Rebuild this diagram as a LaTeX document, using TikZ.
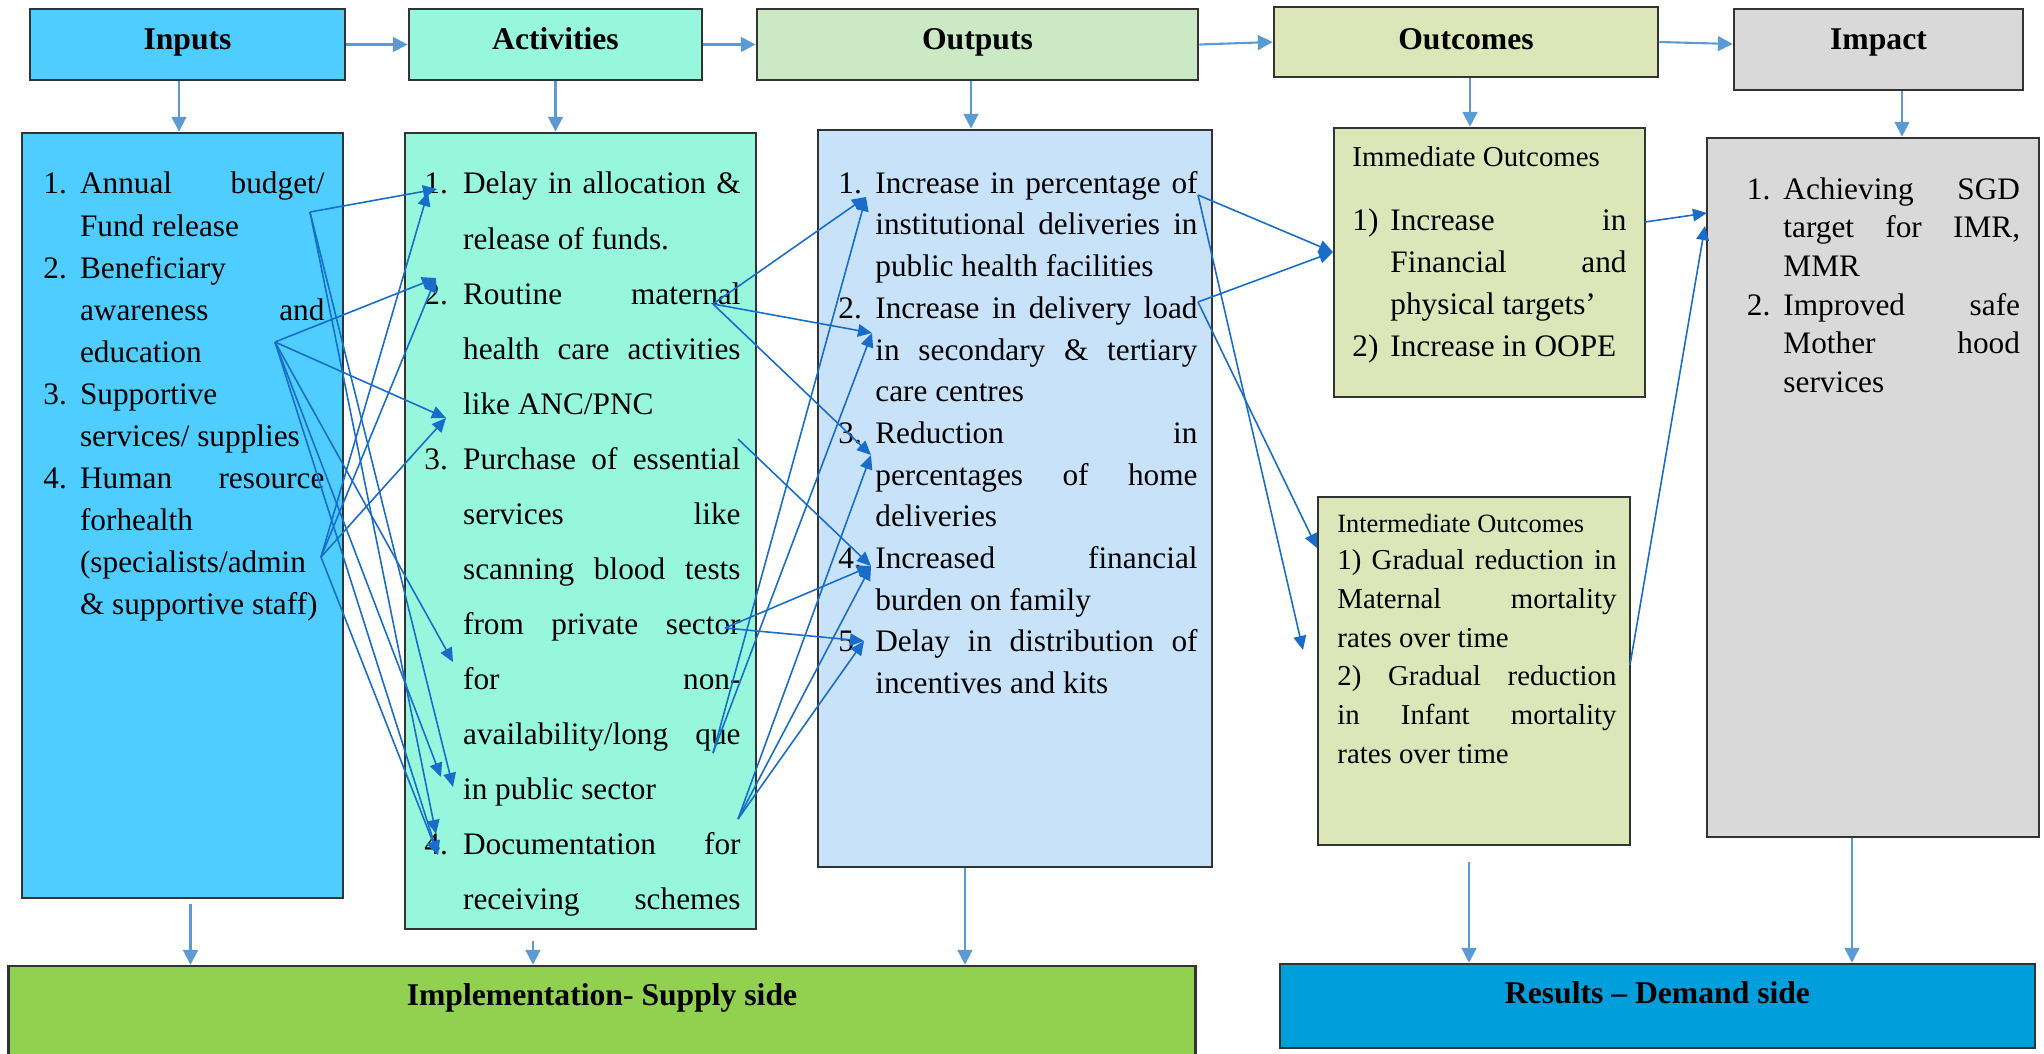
\documentclass[tikz,border=0pt]{standalone}
\usepackage{fontspec}
\setmainfont{Liberation Serif}
\usetikzlibrary{arrows.meta, positioning}

\definecolor{inputblue}{RGB}{80,205,255}
\definecolor{activitymint}{RGB}{150,247,220}
\definecolor{outputgreen}{RGB}{204,233,197}
\definecolor{outputblue}{RGB}{200,226,250}
\definecolor{outcomeolive}{RGB}{220,230,184}
\definecolor{impactgray}{RGB}{217,217,217}
\definecolor{supplygreen}{RGB}{146,208,80}
\definecolor{demandblue}{RGB}{0,158,219}
\definecolor{flowblue}{RGB}{91,155,213}
\definecolor{linkblue}{RGB}{24,108,202}

\hyphenpenalty=10000
\newlength{\lblw}
\newcommand{\litem}[2]{\noindent\hangindent=\lblw\hangafter=1\makebox[\lblw][l]{#1}#2\par}

\begin{document}
\begin{tikzpicture}[
  x=0.01cm, y=-0.01cm,
  every node/.style = {font=\fontsize{8.9}{12}\selectfont},
  box/.style = {
    draw=black!80,
    line width=0.7pt,
    inner sep=0pt
  },
  head/.style = {
    box,
    font=\fontsize{9}{11}\selectfont\bfseries,
    text height=0.217cm,
    text depth=0.12cm
  },
  listtext/.style = {
    inner sep=0pt,
    align=justify,
    anchor=north west
  },
  flow/.style = {
    -{Triangle[length=4.2pt,width=4.2pt]},
    flowblue,
    line width=0.6pt
  },
  link/.style = {
    -{Triangle[length=4pt,width=3.6pt]},
    linkblue,
    line width=0.45pt
  }
]
\useasboundingbox (0,0) rectangle (2044,1054);

\node[head, fill=inputblue, minimum width=3.15cm, minimum height=0.71cm] (inHead) at (187.5,44.5) {Inputs};
\node[head, fill=activitymint, minimum width=2.93cm, minimum height=0.71cm] (actHead) at (555.5,44.5) {Activities};
\node[head, fill=outputgreen, minimum width=4.41cm, minimum height=0.71cm] (outHead) at (977.5,44.5) {Outputs};
\node[head, fill=outcomeolive, minimum width=3.84cm, minimum height=0.70cm, text depth=0.06cm] (ocHead) at (1466,42) {Outcomes};
\node[head, fill=impactgray, minimum width=2.89cm, minimum height=0.81cm, text depth=0.22cm] (impHead) at (1878.5,49.5) {Impact};

\node[box, fill=inputblue, minimum width=3.21cm, minimum height=7.65cm] (inBody) at (182.5,515.5) {};
\node[box, fill=activitymint, minimum width=3.51cm, minimum height=7.96cm] (actBody) at (580.5,531) {};
\node[box, fill=outputblue, minimum width=3.94cm, minimum height=7.37cm] (outBody) at (1015,498.5) {};
\node[box, fill=outcomeolive, minimum width=3.11cm, minimum height=2.69cm] (immBody) at (1489.5,262.5) {};
\node[box, fill=outcomeolive, minimum width=3.12cm, minimum height=3.48cm] (midBody) at (1474,671) {};
\node[box, fill=impactgray, minimum width=3.32cm, minimum height=6.99cm] (impBody) at (1873,487.5) {};

\node[box, fill=supplygreen, minimum width=11.86cm, minimum height=0.96cm,
      font=\fontsize{9}{11}\selectfont\bfseries, text height=0.217cm, text depth=0.39cm]
      (supplyBar) at (602,1014) {Implementation- Supply side};
\node[box, fill=demandblue, minimum width=7.55cm, minimum height=0.84cm,
      font=\fontsize{9}{11}\selectfont\bfseries, text height=0.217cm, text depth=0.27cm]
      (demandBar) at (1657.5,1006) {Results -- Demand side};

\node[listtext, text width=2.81cm, below right=0.40cm and 0.22cm of inBody.north west,
      font=\fontsize{8.9}{11.95}\selectfont] (inText) {%
  \setlength{\lblw}{0.366cm}%
  \litem{1.}{Annual budget/\linebreak Fund release}
  \litem{2.}{Beneficiary\newline awareness and\linebreak education}
  \litem{3.}{Supportive\newline services/ supplies}
  \litem{4.}{Human resource\linebreak forhealth\newline (specialists/admin\newline \& supportive staff)}};

\node[listtext, text width=3.16cm, below right=0.40cm and 0.20cm of actBody.north west,
      font=\fontsize{8.9}{15.65}\selectfont] (actText) {%
  \setlength{\lblw}{0.387cm}%
  \litem{1.}{Delay in allocation \&\linebreak release of funds.}
  \litem{2.}{Routine maternal\linebreak health care activities\linebreak like ANC/PNC}
  \litem{3.}{Purchase of essential\linebreak services like\linebreak scanning blood tests\linebreak from private sector\linebreak for non-\linebreak availability/long que\linebreak in public sector}
  \litem{4.}{Documentation for\linebreak receiving\hfill schemes}};

\node[listtext, text width=3.59cm, below right=0.42cm and 0.21cm of outBody.north west,
      font=\fontsize{8.9}{11.85}\selectfont] (outText) {%
  \setlength{\lblw}{0.37cm}%
  \litem{1.}{Increase in percentage of\linebreak institutional deliveries in\linebreak public health facilities}
  \litem{2.}{Increase in delivery load\linebreak in secondary \& tertiary\linebreak care centres}
  \litem{3.}{Reduction in\linebreak percentages of home\linebreak deliveries}
  \litem{4.}{Increased financial\linebreak burden on family}
  \litem{5.}{Delay in distribution of\linebreak incentives and kits}};

\node[listtext, below right=0.195cm and 0.19cm of immBody.north west,
      font=\fontsize{8.2}{10}\selectfont] (immTitle) {Immediate Outcomes};
\node[listtext, text width=2.74cm, below right=0.815cm and 0.19cm of immBody.north west,
      font=\fontsize{8.9}{11.9}\selectfont] (immText) {%
  \setlength{\lblw}{0.38cm}%
  \litem{1)}{Increase in\linebreak Financial and\linebreak physical targets'}
  \litem{2)}{Increase in OOPE}};

\node[listtext, below right=0.18cm and 0.20cm of midBody.north west,
      font=\fontsize{7.5}{9}\selectfont] (midTitle) {Intermediate Outcomes};
\node[listtext, text width=2.79cm, below right=0.535cm and 0.20cm of midBody.north west,
      font=\fontsize{8.2}{11}\selectfont] (midText) {%
  1) Gradual reduction in\linebreak Maternal mortality\linebreak rates over time\newline
  2) Gradual reduction\linebreak in Infant mortality\linebreak rates over time};

\node[listtext, text width=2.73cm, below right=0.40cm and 0.405cm of impBody.north west,
      font=\fontsize{8.9}{11}\selectfont] (impText) {%
  \setlength{\lblw}{0.365cm}%
  \litem{1.}{Achieving SGD\linebreak target for IMR,\linebreak MMR}
  \litem{2.}{Improved safe\linebreak Mother hood\linebreak services}};

\draw[flow] (inHead.east) -- (actHead.west);
\draw[flow] (actHead.east) -- (outHead.west);
\draw[flow] (outHead.east) -- (ocHead.west);
\draw[flow] (ocHead.east) -- ([yshift=-0.02cm]impHead.west |- ocHead.east);

\draw[flow] ([xshift=-0.085cm]inHead.south) -- ([xshift=-0.085cm]inHead.south |- inBody.north);
\draw[flow] (actHead.south) -- (actHead.south |- actBody.north);
\draw[flow] ([xshift=-0.065cm]outHead.south) -- ([xshift=-0.065cm]outHead.south |- outBody.north);
\draw[flow] ([xshift=0.04cm]ocHead.south) -- ([xshift=0.04cm]ocHead.south |- immBody.north);
\draw[flow] ([xshift=0.235cm]impHead.south) -- ([xshift=0.235cm]impHead.south |- impBody.north);

\draw[flow] ([xshift=0.08cm, yshift=-0.05cm]inBody.south) -- ([xshift=0.08cm]inBody.south |- supplyBar.north);
\draw[flow] ([xshift=-0.475cm, yshift=-0.11cm]actBody.south) -- ([xshift=-0.475cm]actBody.south |- supplyBar.north);
\draw[flow] ([xshift=-0.5cm]outBody.south) -- ([xshift=-0.5cm]outBody.south |- supplyBar.north);
\draw[flow] ([xshift=-0.05cm, yshift=-0.16cm]midBody.south) -- ([xshift=-0.05cm]midBody.south |- demandBar.north);
\draw[flow] ([xshift=-0.21cm]impBody.south) -- ([xshift=-0.21cm]impBody.south |- demandBar.north);

\coordinate (inBudget) at (310,212);
\coordinate (inAware) at (275,342);
\coordinate (inStaff) at (321,557);
\coordinate (actDelay) at (437,189);
\coordinate (actDelayB) at (428,192);
\coordinate (actRoutine) at (436,278);
\coordinate (actANC) at (446,418);
\coordinate (actNon) at (453,662);
\coordinate (actPublic) at (441,777);
\coordinate (actPublicB) at (453,787);
\coordinate (actDoc) at (436,834);
\coordinate (actDocB) at (438,855);

\coordinate (actMaternal) at (713,304);
\coordinate (actEssential) at (738,439);
\coordinate (actSector) at (725,628);
\coordinate (actQue) at (713,753);
\coordinate (actFor) at (738,819);
\coordinate (outInst) at (866,197);
\coordinate (outLoad) at (872,333);
\coordinate (outHome) at (871,455);
\coordinate (outBurden) at (871,566);
\coordinate (outDelay) at (864,641);

\coordinate (outOf) at (1198,195);
\coordinate (outLoadEnd) at (1198,302);
\coordinate (ocImm) at (1333,252);
\coordinate (ocInter) at (1317,548);
\coordinate (ocBelow) at (1303,650);
\coordinate (ocImmEnd) at (1645,222);
\coordinate (ocInterEnd) at (1630,665);
\coordinate (impTop) at (1707,213);
\coordinate (impTopB) at (1705,226);

\draw[link] (inBudget) -- (actDelay);
\draw[link] (inBudget) -- (actPublicB);
\draw[link] (inBudget) -- (actDoc);
\draw[link] (inAware) -- (actRoutine);
\draw[link] (inAware) -- (actANC);
\draw[link] (inAware) -- (actNon);
\draw[link] (inAware) -- (actPublic);
\draw[link] (inAware) -- (actDocB);
\draw[link] (inStaff) -- (actDelayB);
\draw[link] (inStaff) -- (actRoutine);
\draw[link] (inStaff) -- (actANC);
\draw[link] (inStaff) -- (actDocB);

\draw[link] (actMaternal) -- (outInst);
\draw[link] (actMaternal) -- (outLoad);
\draw[link] (actMaternal) -- (outHome);
\draw[link] (actEssential) -- (outBurden);
\draw[link] (actSector) -- (outBurden);
\draw[link] (actSector) -- (outDelay);
\draw[link] (actQue) -- (outInst);
\draw[link] (actQue) -- (outLoad);
\draw[link] (actFor) -- (outHome);
\draw[link] (actFor) -- (outBurden);
\draw[link] (actFor) -- (outDelay);

\draw[link] (outOf) -- (ocImm);
\draw[link] (outOf) -- (ocBelow);
\draw[link] (outLoadEnd) -- (ocImm);
\draw[link] (outLoadEnd) -- (ocInter);
\draw[link] (ocImmEnd) -- (impTop);
\draw[link] (ocInterEnd) -- (impTopB);

\end{tikzpicture}
\end{document}
